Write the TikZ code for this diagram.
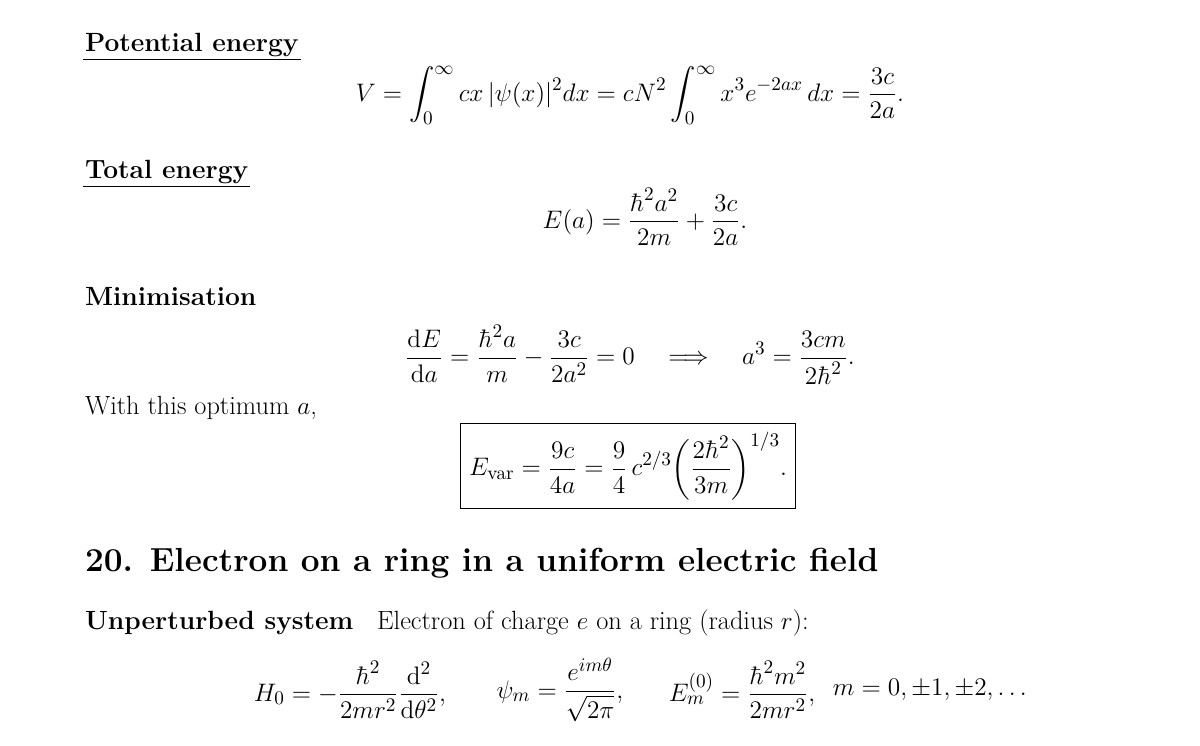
\documentclass[tikz,border=0pt]{standalone}
\usepackage{amsmath}
\usetikzlibrary{positioning}
\tikzset{
  head/.style={font=\fontsize{15}{18}\selectfont\bfseries, anchor=west, inner sep=1pt},
  txt/.style={font=\fontsize{15}{18}\selectfont, anchor=west, inner sep=1pt},
  eq/.style={font=\fontsize{15}{18}\selectfont, inner sep=2pt},
}
\begin{document}
\begin{tikzpicture}[x=0.02cm,y=-0.02cm]
  \useasboundingbox (0,0) rectangle (1200,745);
  % headings
  \node[head] (pot) at (83,45) {Potential energy};
  \draw (pot.south west) -- (pot.south east);
  \node[head] (tot) at (83,172) {Total energy};
  \draw (tot.south west) -- (tot.south east);
  \node[head] (mini) at (83,297) {Minimisation};
  \node[txt] (opt) at (83,408) {With this optimum $a$,};
  % formulas
  \node[eq] (veq) at (630,95) {$\displaystyle V=\int_0^\infty cx\,|\psi(x)|^2dx=cN^2\int_0^\infty x^3e^{-2ax}\,dx=\frac{3c}{2a}.$};
  \node[eq] (eeq) at (645,217) {$\displaystyle E(a)=\frac{\hbar^2a^2}{2m}+\frac{3c}{2a}.$};
  \node[eq] (deq) at (630,355) {$\displaystyle \frac{\mathrm{d}E}{\mathrm{d}a}=\frac{\hbar^2a}{m}-\frac{3c}{2a^2}=0\quad\Longrightarrow\quad a^3=\frac{3cm}{2\hbar^2}.$};
  \node[eq, draw, inner sep=5pt] (box) at (628,466) {$\displaystyle E_{\mathrm{var}}=\frac{9c}{4a}=\frac{9}{4}\,c^{2/3}\biggl(\frac{2\hbar^2}{3m}\biggr)^{1/3}.$};
  % section
  \node[head, font=\fontsize{19}{22}\selectfont\bfseries] (sec) at (83,563) {20. Electron on a ring in a uniform electric field};
  \node[head] (unp) at (83,623) {Unperturbed system};
  \node[txt] (desc) at (375,623) {Electron of charge $e$ on a ring (radius $r$):};
  \node[eq] (ham) at (350,690) {$\displaystyle H_0=-\frac{\hbar^2}{2mr^2}\frac{\mathrm{d}^2}{\mathrm{d}\theta^2},$};
  \node[eq] (psi) at (560,690) {$\displaystyle \psi_m=\frac{e^{im\theta}}{\sqrt{2\pi}},$};
  \node[eq] (en) at (742,690) {$\displaystyle E_m^{(0)}=\frac{\hbar^2m^2}{2mr^2},$};
  \node[eq] (mval) at (932,690) {$m=0,\pm1,\pm2,\dots$};
\end{tikzpicture}
\end{document}
